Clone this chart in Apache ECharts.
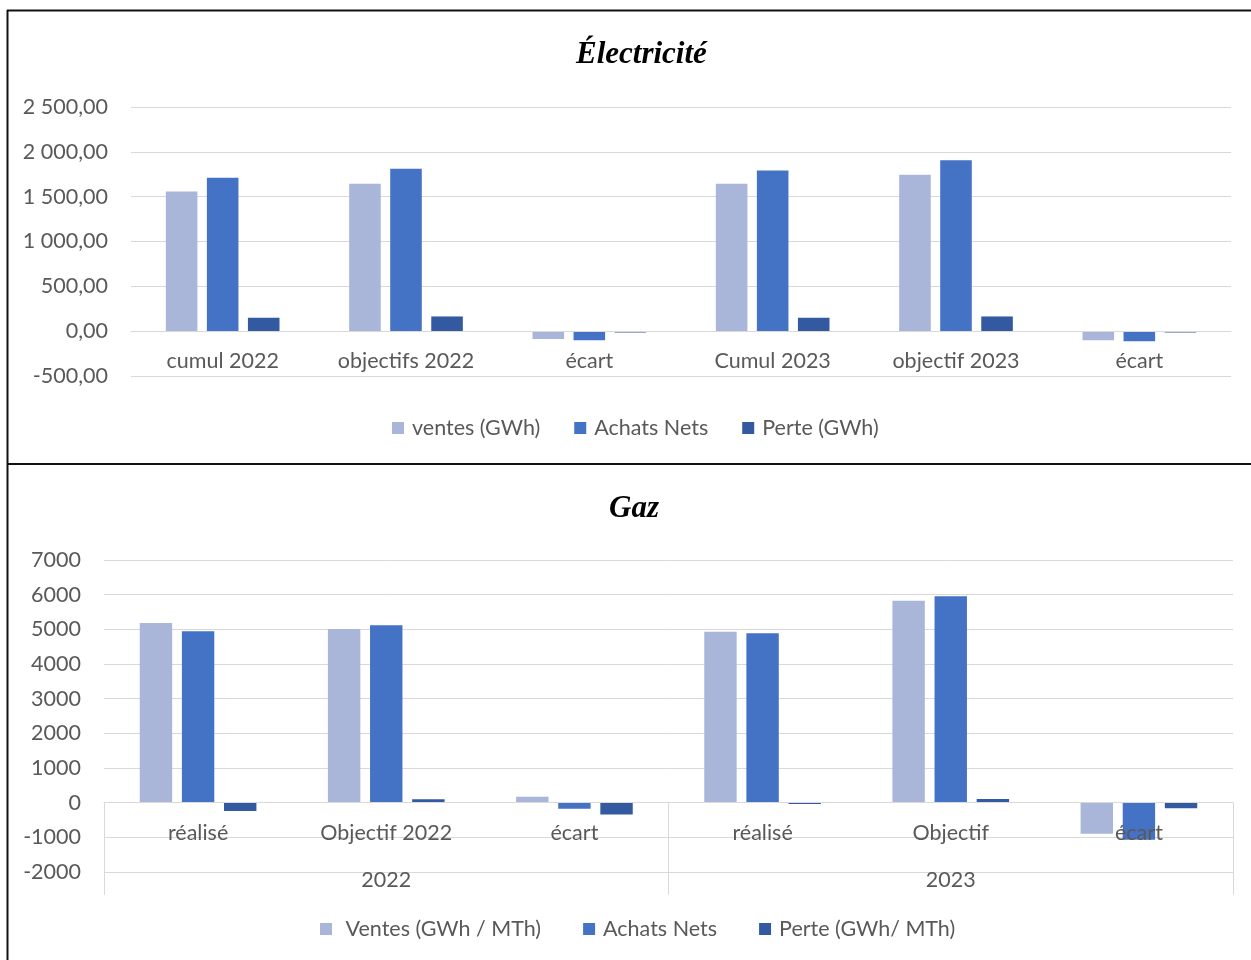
<!DOCTYPE html>
<html lang="fr">
<head>
<meta charset="utf-8">
<title>Électricité / Gaz</title>
<script src="https://cdn.jsdelivr.net/npm/echarts@6/dist/echarts.min.js"></script>
<style>
  html, body { margin: 0; padding: 0; background: #fff; }
  #chart { width: 1251px; height: 960px; }
</style>
</head>
<body>
<div id="chart"></div>
<script>
// Électricité (GWh)
const elecCategories = ['cumul 2022', 'objectifs 2022', 'écart', 'Cumul 2023', 'objectif 2023', 'écart'];
const elecVentes = [1559, 1645, -86, 1645, 1745, -100];
const elecAchats = [1712, 1812, -100, 1793, 1905, -112];
const elecPerte = [150, 164, -14, 150, 164, -14];
const elecNames = ['ventes (GWh)', 'Achats Nets', 'Perte (GWh)'];

// Gaz (GWh / MTh)
const gazCategories = ['réalisé', 'Objectif 2022', 'écart', 'réalisé', 'Objectif', 'écart'];
const gazYears = ['2022', '2023'];
const gazVentes = [5183, 5010, 173, 4933, 5827, -894];
const gazAchats = [4942, 5115, -173, 4885, 5952, -1067];
const gazPerte = [-240, 96, -340, -40, 106, -160];
const gazNames = [' Ventes (GWh / MTh)', 'Achats Nets', 'Perte (GWh/ MTh)'];

const colors = ['#A9B6DA', '#4472C4', '#335AA0'];
const FONT = 'Lato, "Open Sans", sans-serif';
const TEXT = '#595959';
const GRID_LINE = '#D9D9D9';
const FS = 21.5;

// Panel geometry (pixels) used to place the category axes on the zero line
const elecGrid = { left: 131, right: 20, top: 107, bottom: 584 };
const gazGrid = { left: 104, right: 18, top: 560, bottom: 88 };
const elecMin = -500, elecMax = 2500;
const gazMin = -2000, gazMax = 7000;
const elecZeroOffset = -(960 - elecGrid.top - elecGrid.bottom) * (0 - elecMin) / (elecMax - elecMin);
const gazZeroOffset = -(960 - gazGrid.top - gazGrid.bottom) * (0 - gazMin) / (gazMax - gazMin);

// French number format: "2 500,00"
function frNumber(v) {
  const neg = v < 0;
  const parts = Math.abs(v).toFixed(2).split('.');
  const int = parts[0].replace(/\B(?=(\d{3})+(?!\d))/g, ' ');
  return (neg ? '-' : '') + int + ',' + parts[1];
}

const labelStyle = { color: TEXT, fontFamily: FONT, fontSize: FS };

function barSeries(name, data, idx, gridIdx) {
  return {
    name: name,
    type: 'bar',
    xAxisIndex: gridIdx,
    yAxisIndex: gridIdx,
    data: data,
    barGap: '30%',
    barCategoryGap: '38%',
    itemStyle: { color: colors[idx] },
    emphasis: { disabled: true }
  };
}

const titleStyle = {
  fontFamily: '"Liberation Serif", "Times New Roman", serif',
  fontStyle: 'italic', fontWeight: 'bold', fontSize: 31, color: '#000'
};
const legendText = { color: TEXT, fontFamily: FONT, fontSize: FS, lineHeight: 22, padding: [0, 0, 0, 3] };

const chart = echarts.init(document.getElementById('chart'), null, { renderer: 'canvas' });

chart.setOption({
  backgroundColor: '#fff',
  animation: false,
  color: colors,
  title: [
    { text: 'Électricité', left: 576, top: 39, padding: 0, textStyle: titleStyle },
    { text: 'Gaz', left: 609, top: 493, padding: 0, textStyle: titleStyle }
  ],
  legend: [
    { data: elecNames, top: 417, left: 392, padding: 0, itemWidth: 12, itemHeight: 12, itemGap: 34,
      icon: 'rect', textStyle: legendText },
    { data: gazNames, top: 918, left: 320, padding: 0, itemWidth: 12, itemHeight: 12, itemGap: 42,
      icon: 'rect', textStyle: legendText }
  ],
  grid: [elecGrid, gazGrid],
  xAxis: [
    { type: 'category', gridIndex: 0, data: elecCategories, z: 5,
      position: 'bottom', offset: elecZeroOffset,
      axisLine: { onZero: false, lineStyle: { color: GRID_LINE, width: 1 } },
      axisTick: { show: false },
      axisLabel: Object.assign({ margin: 19, interval: 0 }, labelStyle) },
    { type: 'category', gridIndex: 1, data: gazCategories, z: 5,
      position: 'bottom', offset: gazZeroOffset,
      axisLine: { onZero: false, lineStyle: { color: GRID_LINE, width: 1 } },
      axisTick: { show: false },
      axisLabel: Object.assign({ margin: 19, interval: 0 }, labelStyle) },
    { type: 'category', gridIndex: 1, data: gazYears,
      position: 'bottom', offset: gazZeroOffset,
      axisLine: { show: false, onZero: false },
      axisTick: { show: true, length: 92, lineStyle: { color: GRID_LINE, width: 1 } },
      axisLabel: Object.assign({ margin: 66, interval: 0 }, labelStyle) }
  ],
  yAxis: [
    { type: 'value', gridIndex: 0, min: elecMin, max: elecMax, interval: 500,
      axisLine: { show: false }, axisTick: { show: false },
      splitLine: { lineStyle: { color: GRID_LINE, width: 1 } },
      axisLabel: Object.assign({ margin: 23, formatter: frNumber }, labelStyle) },
    { type: 'value', gridIndex: 1, min: gazMin, max: gazMax, interval: 1000,
      axisLine: { show: false }, axisTick: { show: false },
      splitLine: { lineStyle: { color: GRID_LINE, width: 1 } },
      axisLabel: Object.assign({ margin: 23, formatter: v => String(v) }, labelStyle) }
  ],
  series: [
    barSeries(elecNames[0], elecVentes, 0, 0),
    barSeries(elecNames[1], elecAchats, 1, 0),
    barSeries(elecNames[2], elecPerte, 2, 0),
    barSeries(gazNames[0], gazVentes, 0, 1),
    barSeries(gazNames[1], gazAchats, 1, 1),
    barSeries(gazNames[2], gazPerte, 2, 1)
  ],
  // Frame around the two panels
  graphic: [
    { type: 'line', shape: { x1: 7, y1: 10.5, x2: 1251, y2: 10.5 }, style: { stroke: '#111', lineWidth: 2 } },
    { type: 'line', shape: { x1: 7.5, y1: 10, x2: 7.5, y2: 960 }, style: { stroke: '#111', lineWidth: 2 } },
    { type: 'line', shape: { x1: 7, y1: 464, x2: 1251, y2: 464 }, style: { stroke: '#111', lineWidth: 2 } }
  ]
});
</script>
</body>
</html>
